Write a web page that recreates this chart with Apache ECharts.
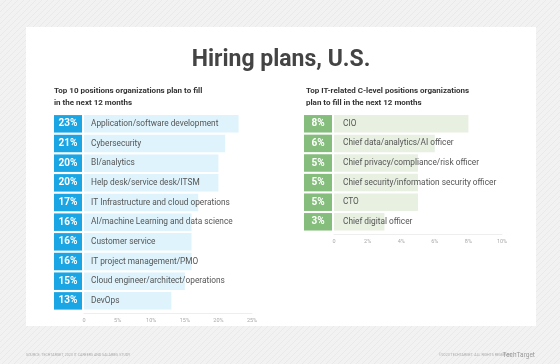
<!DOCTYPE html>
<html><head><meta charset="utf-8">
<script src="https://cdn.jsdelivr.net/npm/echarts@6/dist/echarts.min.js"></script>
<style>html,body{margin:0;padding:0;background:#f2f2f2;}#c{width:560px;height:364px;}</style>
</head><body><div id="c"></div>
<script>
const leftCategories = ["Application/software development","Cybersecurity","BI/analytics","Help desk/service desk/ITSM","IT Infrastructure and cloud operations","AI/machine Learning and data science","Customer service","IT project management/PMO","Cloud engineer/architect/operations","DevOps"];
const leftValues = [23,21,20,20,17,16,16,16,15,13];
const leftTicks = ["0","5%","10%","15%","20%","25%"];
const rightCategories = ["CIO","Chief data/analytics/AI officer","Chief privacy/compliance/risk officer","Chief security/information security officer","CTO","Chief digital officer"];
const rightValues = [8,6,5,5,5,3];
const rightTicks = ["0","2%","4%","6%","8%","10%"];

const FONT = 'Roboto, "Open Sans", sans-serif';
const chart = echarts.init(document.getElementById('c'), null, {renderer:'canvas'});

// striped background pattern
const pc = document.createElement('canvas'); pc.width = 6; pc.height = 6;
const px = pc.getContext('2d');
px.fillStyle = '#f2f2f2'; px.fillRect(0,0,6,6);
px.strokeStyle = '#e9e9e9'; px.lineWidth = 1;
px.beginPath(); px.moveTo(0,6); px.lineTo(6,0); px.moveTo(-3,3); px.lineTo(3,-3); px.moveTo(3,9); px.lineTo(9,3); px.stroke();

function tickFmt(ticks, step){ return v => ticks[Math.round(v/step)] ?? ''; }

function yAxisCfg(idx, cats, vals, color){
  return {
    type:'category', gridIndex: idx, data: cats, inverse: true,
    axisLine:{show:false}, axisTick:{show:false}, splitLine:{show:false},
    axisLabel:{
      margin: 2,
      formatter: (v, i) => '{b|' + vals[i] + '%}',
      rich:{ b:{ width:28, height:17.5, lineHeight:17.5, align:'center', backgroundColor: color,
                 color:'#fff', fontSize:10, fontWeight:'bold', fontFamily: FONT } }
    }
  };
}
function xAxisCfg(idx, max, step, ticks){
  return {
    type:'value', gridIndex: idx, min:0, max:max, interval: step,
    axisLine:{show:true, onZero:false, lineStyle:{color:'#eeeeee', width:1}},
    offset: 3,
    axisTick:{show:false}, splitLine:{show:false},
    axisLabel:{ formatter: tickFmt(ticks, step), fontSize:5.5, color:'#aaaaaa', margin:4, fontFamily: FONT }
  };
}
function seriesCfg(idx, vals, cats, color){
  return {
    type:'bar', xAxisIndex: idx, yAxisIndex: idx, data: vals, barWidth: 17.5,
    itemStyle:{ color: color },
    silent: true,
    label:{ show:true, position:'insideLeft', distance: idx===0 ? 7 : 9,
      formatter: p => cats[p.dataIndex], color:'#555', fontSize:8.3, fontFamily: FONT }
  };
}

chart.setOption({
  animation:false,
  graphic:[
    {type:'rect', shape:{x:0,y:0,width:560,height:364}, style:{fill:{image:pc, repeat:'repeat'}}, z:-10},
    {type:'rect', shape:{x:26,y:27,width:510,height:299}, style:{fill:'#ffffff'}, z:-9},
    {type:'text', x:281, y:60, style:{text:'Hiring plans, U.S.', font:'bold 23px ' + FONT, fill:'#444444', align:'center', verticalAlign:'middle'}},
    {type:'text', x:54, y:85.5, style:{text:'Top 10 positions organizations plan to fill\nin the next 12 months', font:'bold 8px ' + FONT, fill:'#333', lineHeight:11.5}},
    {type:'text', x:306, y:85.5, style:{text:'Top IT-related C-level positions organizations\nplan to fill in the next 12 months', font:'bold 8px ' + FONT, fill:'#333', lineHeight:11.5}},
    {type:'text', x:26, y:355, style:{text:'SOURCE: TECHTARGET, 2023 IT CAREERS AND SALARIES STUDY', font:'3.6px ' + FONT, fill:'#aaaaaa', verticalAlign:'middle'}},
    {type:'text', x:512, y:355, style:{text:'©2023 TECHTARGET. ALL RIGHTS RESERVED', font:'3.6px ' + FONT, fill:'#aaaaaa', align:'right', verticalAlign:'middle'}},
    {type:'text', x:535, y:355, style:{text:'TechTarget', font:'6.5px ' + FONT, fill:'#999999', align:'right', verticalAlign:'middle'}}
  ],
  grid:[
    {left:84, top:114, width:168, height:196.7},
    {left:334, top:114, width:168, height:117.6}
  ],
  xAxis:[ xAxisCfg(0, 25, 5, leftTicks), xAxisCfg(1, 10, 2, rightTicks) ],
  yAxis:[ yAxisCfg(0, leftCategories, leftValues, '#1aa6e4'), yAxisCfg(1, rightCategories, rightValues, '#85bd7d') ],
  series:[ seriesCfg(0, leftValues, leftCategories, '#def3fc'), seriesCfg(1, rightValues, rightCategories, '#e8f0e2') ]
});
</script></body></html>
